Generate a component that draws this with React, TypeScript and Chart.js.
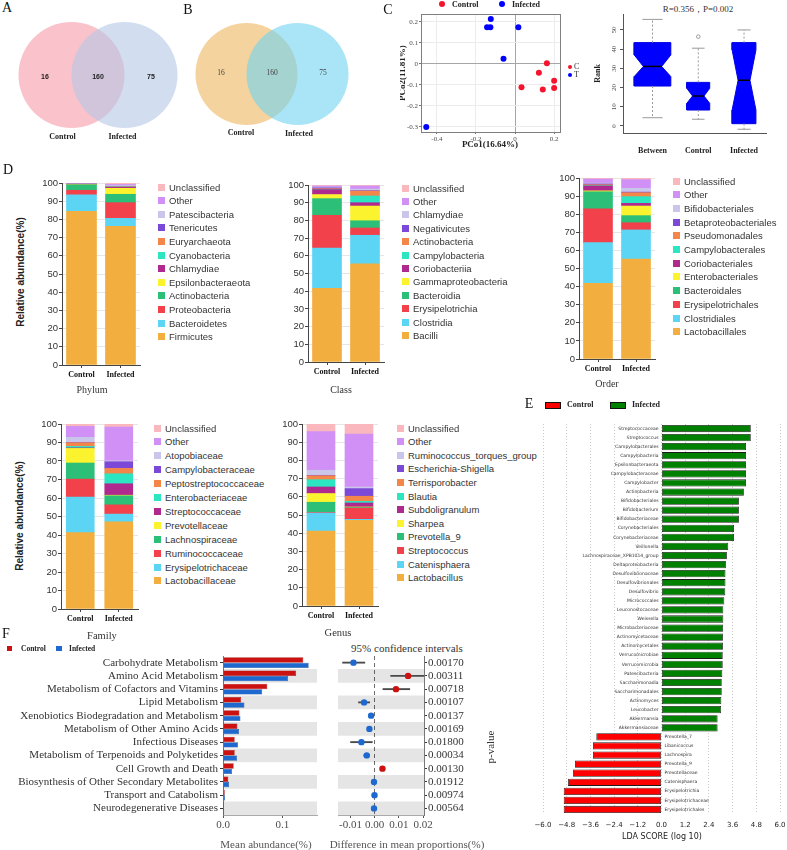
import React, { useEffect, useRef } from 'react';
import { Chart, registerables } from 'chart.js';

Chart.register(...registerables);

/* ---------------- shared ---------------- */
const GROUPS = ['Control', 'Infected'];

/* ---------------- A / B: shared features ---------------- */
const VENN_A_COUNTS = [16, 160, 75]; // control only, shared, infected only
const VENN_B_COUNTS = [16, 160, 75];

/* ---------------- C: PCoA ---------------- */
const PCOA_CONTROL_X = [0.163, 0.122, 0.2, 0.2, 0.033, 0.142];
const PCOA_CONTROL_Y = [0.003, -0.042, -0.08, -0.114, -0.111, -0.122];
const PCOA_INFECTED_X = [-0.124, -0.143, -0.126, 0.017, -0.059, -0.454];
const PCOA_INFECTED_Y = [0.214, 0.175, 0.175, 0.175, 0.025, -0.3];
const PCOA_X_TICKS = [-0.4, -0.2, 0, 0.2];
const PCOA_Y_TICKS = [-0.3, -0.2, -0.1, 0, 0.1, 0.2];

/* ---------------- C: ANOSIM rank boxes ---------------- */
const BOX_GROUPS = ['Between', 'Control', 'Infected'];
const BOX_LOW = [4.3, 3.5, -1.7];
const BOX_Q1 = [20.8, 8.3, 1.2];
const BOX_MEDIAN = [31.0, 15.6, 23.8];
const BOX_Q3 = [43.4, 22.7, 43.4];
const BOX_HIGH = [55.5, 40.5, 50.0];
const BOX_NOTCH_LOW = [25.7, 11.8, 8.3];
const BOX_NOTCH_HIGH = [37.0, 19.6, 39.6];
const BOX_OUTLIERS = [[], [46.5], []];
const RANK_TICKS = [0, 10, 20, 30, 40, 50];

/* ---------------- D: relative abundance ---------------- */
const PCT_TICKS = [0, 10, 20, 30, 40, 50, 60, 70, 80, 90, 100];
const TAXON_COLORS = ['#F2AE3E', '#5CD4F4', '#F3414B', '#2CBF78', '#FAF32E', '#B0298F', '#2BE6C0', '#F5864A', '#7C48D8', '#CAC5EA', '#D090F5', '#FAB8BE'];

const PHYLUM_TAXA = ['Firmicutes', 'Bacteroidetes', 'Proteobacteria', 'Actinobacteria', 'Epsilonbacteraeota', 'Chlamydiae', 'Cyanobacteria', 'Euryarchaeota', 'Tenericutes', 'Patescibacteria', 'Other', 'Unclassified'];
const PHYLUM_CONTROL = [84.5, 9.0, 2.5, 3.0, 0.1, 0.1, 0.1, 0.1, 0.1, 0.1, 0.2, 0.2];
const PHYLUM_INFECTED = [76.2, 4.4, 8.6, 4.6, 3.3, 0.6, 0.2, 0.2, 0.1, 0.4, 0.6, 0.8];

const CLASS_TAXA = ['Bacilli', 'Clostridia', 'Erysipelotrichia', 'Bacteroidia', 'Gammaproteobacteria', 'Coriobacteriia', 'Campylobacteria', 'Actinobacteria', 'Negativicutes', 'Chlamydiae', 'Other', 'Unclassified'];
const CLASS_CONTROL = [41.6, 22.8, 18.5, 9.4, 2.3, 2.8, 0.1, 0.4, 0.5, 0.4, 0.6, 0.6];
const CLASS_INFECTED = [55.4, 16.2, 4.1, 4.1, 8.3, 1.9, 3.8, 2.8, 0.2, 0.9, 1.7, 0.6];

const ORDER_TAXA = ['Lactobacillales', 'Clostridiales', 'Erysipelotrichales', 'Bacteroidales', 'Enterobacteriales', 'Coriobacteriales', 'Campylobacterales', 'Pseudomonadales', 'Betaproteobacteriales', 'Bifidobacteriales', 'Other', 'Unclassified'];
const ORDER_CONTROL = [41.8, 22.5, 18.7, 9.4, 0.5, 2.7, 0.2, 0.5, 0.4, 0.5, 2.2, 0.6];
const ORDER_INFECTED = [55.2, 16.1, 4.0, 3.9, 5.3, 1.5, 3.7, 2.2, 0.3, 2.1, 4.8, 0.9];

const FAMILY_TAXA = ['Lactobacillaceae', 'Erysipelotrichaceae', 'Ruminococcaceae', 'Lachnospiraceae', 'Prevotellaceae', 'Streptococcaceae', 'Enterobacteriaceae', 'Peptostreptococcaceae', 'Campylobacteraceae', 'Atopobiaceae', 'Other', 'Unclassified'];
const FAMILY_CONTROL = [41.3, 19.2, 9.7, 8.7, 7.9, 0.3, 0.8, 2.0, 0.1, 2.8, 5.9, 1.3];
const FAMILY_INFECTED = [47.1, 4.2, 5.0, 4.9, 0.3, 6.2, 5.4, 2.9, 3.6, 0.5, 18.3, 1.6];

const GENUS_TAXA = ['Lactobacillus', 'Catenisphaera', 'Streptococcus', 'Prevotella_9', 'Sharpea', 'Subdoligranulum', 'Blautia', 'Terrisporobacter', 'Escherichia-Shigella', 'Ruminococcus_torques_group', 'Other', 'Unclassified'];
const GENUS_CONTROL = [41.2, 9.9, 0.3, 5.6, 4.8, 3.6, 4.0, 2.2, 0.2, 2.8, 21.2, 4.2];
const GENUS_INFECTED = [47.1, 0.5, 6.2, 0.3, 0.3, 2.2, 0.9, 2.8, 4.2, 0.9, 29.1, 5.5];

/* ---------------- E: LEfSe ---------------- */
const LDA_TAXA = ['Streptococcaceae', 'Streptococcus', 'Campylobacterales', 'Campylobacteria', 'Epsilonbacteraeota', 'Campylobacteraceae', 'Campylobacter', 'Actinobacteria', 'Bifidobacteriales', 'Bifidobacterium', 'Bifidobacteriaceae', 'Corynebacteriales', 'Corynebacteriaceae', 'Veillonella', 'Lachnospiraceae_XPB1014_group', 'Deltaproteobacteria', 'Desulfovibrionaceae', 'Desulfovibrionales', 'Desulfovibrio', 'Micrococcales', 'Leuconostocaceae', 'Weissella', 'Microbacteriaceae', 'Actinomycetaceae', 'Actinomycetales', 'Verrucomicrobiae', 'Verrucomicrobia', 'Patescibacteria', 'Saccharimonadia', 'Saccharimonadales', 'Actinomyces', 'Leucobacter', 'Akkermansia', 'Akkermansiaceae', 'Prevotella_7', 'Libanicoccus', 'Lachnospira', 'Prevotella_9', 'Prevotellaceae', 'Catenisphaera', 'Erysipelotrichia', 'Erysipelotrichaceae', 'Erysipelotrichales'];
const LDA_SCORES = [4.52, 4.52, 4.28, 4.28, 4.28, 4.28, 4.28, 4.17, 3.92, 3.92, 3.92, 3.67, 3.67, 3.38, 3.31, 3.26, 3.24, 3.24, 3.23, 3.18, 3.13, 3.13, 3.12, 3.11, 3.11, 3.10, 3.10, 3.08, 3.05, 3.05, 3.03, 3.02, 2.84, 2.84, -3.30, -3.47, -3.47, -4.38, -4.48, -4.73, -4.95, -4.95, -4.95];
const LDA_TICKS = [-6, -4.8, -3.6, -2.4, -1.2, 0, 1.2, 2.4, 3.6, 4.8, 6];

/* ---------------- F: predicted functions ---------------- */
const PATHWAYS = ['Carbohydrate Metabolism', 'Amino Acid Metabolism', 'Metabolism of Cofactors and Vitamins', 'Lipid Metabolism', 'Xenobiotics Biodegradation and Metabolism', 'Metabolism of Other Amino Acids', 'Infectious Diseases', 'Metabolism of Terpenoids and Polyketides', 'Cell Growth and Death', 'Biosynthesis of Other Secondary Metabolites', 'Transport and Catabolism', 'Neurodegenerative Diseases'];
const PATHWAY_CONTROL = [0.135, 0.123, 0.0745, 0.0305, 0.0276, 0.0242, 0.0197, 0.0197, 0.018, 0.009, 0.003, 0.0015];
const PATHWAY_INFECTED = [0.144, 0.1095, 0.066, 0.036, 0.0293, 0.027, 0.0254, 0.0237, 0.0153, 0.0102, 0.0034, 0.002];
const DIFF_MEAN = [-0.0088, 0.0138, 0.0088, -0.0044, -0.0015, -0.0022, -0.0055, -0.0033, 0.0032, -0.0003, -0.0001, -0.0003];
const DIFF_LOW = [-0.0133, 0.0066, 0.0034, -0.0067, -0.0023, -0.003, -0.01, -0.0045, 0.0024, -0.0008, -0.0005, -0.0007];
const DIFF_HIGH = [-0.0041, 0.0216, 0.0145, -0.0021, -0.0007, -0.0014, -0.001, -0.0021, 0.004, 0.0002, 0.0003, 0.0001];
const P_VALUES = ['0.00170', '0.00311', '0.00718', '0.00107', '0.00137', '0.00169', '0.01800', '0.00034', '0.00130', '0.01912', '0.00974', '0.00564'];
const ABUND_TICKS = [0, 0.1];
const DIFF_TICKS = [-0.01, 0, 0.01, 0.02];

/* ---------------- styling ---------------- */
const SERIF = 'Liberation Serif';
const SANS = 'Liberation Sans';
const DEJAVU = 'DejaVu Sans';
const CSS_SERIF = '"Liberation Serif", "Times New Roman", serif';
const CSS_SANS = '"Liberation Sans", Arial, sans-serif';
const RED = '#cc1111';
const BLUE = '#1e69cf';
const BAND = 'rgba(0,0,0,0.102)';

const base = () => ({
  responsive: false,
  animation: false,
  events: [],
  plugins: { legend: { display: false }, tooltip: { enabled: false }, title: { display: false } },
});

// fixed axis sizes so every plot area lands where it should
const fitW = (w: number) => (s: any) => { s.width = w; s.paddingTop = 0; s.paddingBottom = 0; s.paddingLeft = 0; s.paddingRight = 0; };
const fitH = (h: number) => (s: any) => { s.height = h; s.paddingTop = 0; s.paddingBottom = 0; s.paddingLeft = 0; s.paddingRight = 0; };
const setTicks = (vals: number[]) => (s: any) => { s.ticks = vals.map((v) => ({ value: v })); };

type Gut = { l: number; t: number; r: number; b: number };
function frame(x1: number, y1: number, x2: number, y2: number, g: Gut) {
  return { left: x1 - g.l, top: y1 - g.t, width: x2 - x1 + g.l + g.r, height: y2 - y1 + g.t + g.b, g };
}

function ChartCanvas({ rect, build }: { rect: any; build: () => any }) {
  const ref = useRef<HTMLCanvasElement>(null);
  useEffect(() => {
    const chart = new Chart(ref.current as HTMLCanvasElement, build());
    return () => chart.destroy();
  }, []);
  return (
    <canvas
      ref={ref}
      width={rect.width}
      height={rect.height}
      style={{ position: 'absolute', left: rect.left, top: rect.top, width: rect.width, height: rect.height }}
    />
  );
}

function Label({ x, y, text, font, color = '#222', align = 'center', rotate = 0 }: any) {
  const tx = align === 'center' ? '-50%' : align === 'right' ? '-100%' : '0';
  return (
    <div style={{ position: 'absolute', left: x, top: y, transform: `translate(${tx}, -50%) rotate(${rotate}deg)`, font, color, whiteSpace: 'nowrap', lineHeight: 1 }}>
      {text}
    </div>
  );
}

/* ---------------- A / B ---------------- */
// bubble charts reserve their largest radius as padding, so the canvas is grown by r on each side
const VENN_HALF_W = 90;
const VENN_HALF_H = 60;
function vennRect(v: { cx: number; cy: number; r: number }) {
  return { left: v.cx - VENN_HALF_W - v.r, top: v.cy - VENN_HALF_H - v.r, width: 2 * (VENN_HALF_W + v.r), height: 2 * (VENN_HALF_H + v.r) };
}
function vennConfig(radius: number, colors: string[]) {
  return {
    type: 'bubble',
    data: {
      datasets: [{
        data: [{ x: -radius / 2, y: 0, r: radius }, { x: radius / 2, y: 0, r: radius }],
        backgroundColor: colors,
        borderWidth: 0,
        clip: false,
      }],
    },
    options: {
      ...base(),
      layout: { padding: 0 },
      scales: {
        x: { type: 'linear', display: false, min: -VENN_HALF_W, max: VENN_HALF_W },
        y: { type: 'linear', display: false, min: -VENN_HALF_H, max: VENN_HALF_H },
      },
    },
  };
}

/* ---------------- C ---------------- */
const fmt1 = (v: any) => String(+Number(v).toFixed(1));

function pcoaConfig(g: Gut) {
  const zeroGrid = (c: any) => (c.tick && Math.abs(c.tick.value) < 1e-9 ? '#a6a6a6' : '#ececec');
  const tickFont = { family: SERIF, size: 7 };
  return {
    type: 'scatter',
    data: {
      datasets: [
        { data: PCOA_CONTROL_X.map((x, i) => ({ x, y: PCOA_CONTROL_Y[i] })), backgroundColor: '#f5142d', borderWidth: 0, pointRadius: 3 },
        { data: PCOA_INFECTED_X.map((x, i) => ({ x, y: PCOA_INFECTED_Y[i] })), backgroundColor: '#0000ff', borderWidth: 0, pointRadius: 3 },
      ],
    },
    options: {
      ...base(),
      layout: { padding: { top: g.t, right: g.r } },
      scales: {
        x: {
          type: 'linear', min: -0.481, max: 0.23, afterFit: fitH(g.b), afterBuildTicks: setTicks(PCOA_X_TICKS),
          ticks: { callback: fmt1, font: tickFont, color: '#4d4d4d', padding: 1, maxRotation: 0 },
          grid: { color: zeroGrid, tickLength: 2, tickColor: '#777' }, border: { color: '#7f7f7f' },
        },
        y: {
          type: 'linear', min: -0.324, max: 0.238, afterFit: fitW(g.l), afterBuildTicks: setTicks(PCOA_Y_TICKS),
          ticks: { callback: fmt1, font: tickFont, color: '#4d4d4d', padding: 1 },
          grid: { color: zeroGrid, tickLength: 2, tickColor: '#777' }, border: { color: '#7f7f7f' },
        },
        xTop: { type: 'linear', position: 'top', afterFit: fitH(0), ticks: { display: false }, grid: { display: false }, border: { color: '#7f7f7f' } },
        yRight: { type: 'linear', position: 'right', afterFit: fitW(0), ticks: { display: false }, grid: { display: false }, border: { color: '#7f7f7f' } },
      },
    },
  };
}

// rank values are printed vertically beside the axis
const rotatedRankTicks = {
  id: 'rotatedRankTicks',
  afterDraw(chart: any) {
    const y = chart.scales.y;
    const ctx = chart.ctx;
    ctx.save();
    ctx.font = `7px "${SERIF}"`;
    ctx.fillStyle = '#4d4d4d';
    ctx.textAlign = 'center';
    ctx.textBaseline = 'middle';
    y.ticks.forEach((t: any) => {
      ctx.save();
      ctx.translate(chart.chartArea.left - 9, y.getPixelForValue(t.value));
      ctx.rotate(-Math.PI / 2);
      ctx.fillText(String(t.value), 0, 0);
      ctx.restore();
    });
    ctx.restore();
  },
};

function boxConfig(g: Gut) {
  const halfWidth = [0.4, 0.25, 0.26];
  const seg = (x1: number, y1: number, x2: number, y2: number, color: string, dash: number[] = [], width = 1, order = 1) => ({
    type: 'line', data: [{ x: x1, y: y1 }, { x: x2, y: y2 }], borderColor: color, borderWidth: width, borderDash: dash,
    pointRadius: 0, fill: false, tension: 0, order,
  });
  const datasets: any[] = [];
  BOX_GROUPS.forEach((_, i) => {
    const x = i + 1;
    const hw = halfWidth[i];
    const nw = hw * 0.5;
    const q1 = BOX_Q1[i], q3 = BOX_Q3[i], md = BOX_MEDIAN[i], nl = BOX_NOTCH_LOW[i], nh = BOX_NOTCH_HIGH[i];
    datasets.push({
      type: 'line',
      data: [
        { x: x - hw, y: q1 }, { x: x + hw, y: q1 }, { x: x + hw, y: nl }, { x: x + nw, y: md }, { x: x + hw, y: nh },
        { x: x + hw, y: q3 }, { x: x - hw, y: q3 }, { x: x - hw, y: nh }, { x: x - nw, y: md }, { x: x - hw, y: nl }, { x: x - hw, y: q1 },
      ],
      fill: 'shape', backgroundColor: '#0000ff', borderColor: '#0000e6', borderWidth: 1, pointRadius: 0, tension: 0, order: 3,
    });
    const cw = hw * 0.55;
    datasets.push(seg(x, q3, x, BOX_HIGH[i], '#999', [2, 2]));
    datasets.push(seg(x, q1, x, BOX_LOW[i], '#999', [2, 2]));
    datasets.push(seg(x - cw, BOX_HIGH[i], x + cw, BOX_HIGH[i], '#999'));
    datasets.push(seg(x - cw, BOX_LOW[i], x + cw, BOX_LOW[i], '#999'));
    datasets.push(seg(x - nw, md, x + nw, md, '#000', [], 1.5, 0));
  });
  datasets.push({
    type: 'scatter',
    data: BOX_OUTLIERS.flatMap((vals, i) => vals.map((v) => ({ x: i + 1, y: v }))),
    pointRadius: 1.8, backgroundColor: 'rgba(0,0,0,0)', borderColor: '#888', borderWidth: 0.8, order: 0,
  });
  return {
    type: 'scatter',
    data: { datasets },
    options: {
      ...base(),
      layout: { padding: { top: g.t, right: g.r } },
      scales: {
        x: {
          type: 'linear', min: 0.355, max: 3.48, afterFit: fitH(g.b), afterBuildTicks: setTicks([1, 2, 3]),
          ticks: { callback: (v: any) => BOX_GROUPS[Math.round(v) - 1], font: { family: SERIF, size: 8, weight: 'bold' }, color: '#222', padding: 5, maxRotation: 0 },
          grid: { display: false }, border: { color: '#555' },
        },
        y: {
          type: 'linear', min: -3.65, max: 58.3, afterFit: fitW(g.l), afterBuildTicks: setTicks(RANK_TICKS),
          ticks: { display: false },
          grid: { drawOnChartArea: false, tickLength: 3, tickColor: '#555' }, border: { color: '#555' },
          title: { display: true, text: 'Rank', font: { family: SERIF, size: 8, weight: 'bold' }, color: '#222', padding: 0 },
        },
      },
    },
    plugins: [rotatedRankTicks],
  };
}

/* ---------------- D ---------------- */
function stackedConfig(taxa: string[], control: number[], infected: number[], barW: number, g: Gut) {
  return {
    type: 'bar',
    data: {
      labels: GROUPS,
      datasets: taxa.map((t, i) => ({ label: t, data: [control[i], infected[i]], backgroundColor: TAXON_COLORS[i], borderWidth: 0, barThickness: barW })),
    },
    options: {
      ...base(),
      layout: { padding: { top: g.t, right: g.r } },
      scales: {
        x: {
          stacked: true, afterFit: fitH(g.b),
          ticks: { font: { family: SERIF, size: 8, weight: 'bold' }, color: '#111', padding: 2, maxRotation: 0 },
          grid: { offset: false, drawOnChartArea: false, tickLength: 3, tickColor: '#444' }, border: { color: '#444' },
        },
        y: {
          stacked: true, min: 0, max: 100, afterFit: fitW(g.l), afterBuildTicks: setTicks(PCT_TICKS),
          ticks: { font: { family: SANS, size: 9.5 }, color: '#333', padding: 1 },
          grid: { color: '#e6e6e6', tickLength: 3, tickColor: '#444' }, border: { color: '#444' },
        },
      },
    },
  };
}

function TaxonLegend({ x, y, step, taxa }: { x: number; y: number; step: number; taxa: string[] }) {
  const rows = taxa.map((t, i) => ({ t, i })).reverse();
  return (
    <>
      {rows.map((row, k) => (
        <div key={row.t} style={{ position: 'absolute', left: x, top: y + k * step - 6, height: 12, display: 'flex', alignItems: 'center', font: `9.5px ${CSS_SANS}`, color: '#333', whiteSpace: 'nowrap' }}>
          <span style={{ display: 'inline-block', width: 7, height: 7, background: TAXON_COLORS[row.i], marginRight: 4 }} />
          {row.t}
        </div>
      ))}
    </>
  );
}

/* ---------------- E ---------------- */
const ldaLabels = {
  id: 'ldaLabels',
  afterDatasetsDraw(chart: any) {
    const { ctx } = chart;
    const x = chart.scales.x;
    const y = chart.scales.y;
    const x0 = x.getPixelForValue(0);
    ctx.save();
    ctx.font = `4.5px "${DEJAVU}"`;
    ctx.fillStyle = '#333';
    ctx.textBaseline = 'middle';
    LDA_TAXA.forEach((t, i) => {
      const v = LDA_SCORES[i];
      ctx.textAlign = v > 0 ? 'right' : 'left';
      ctx.fillText(t, v > 0 ? x0 - 3 : x0 + 3, y.getPixelForValue(i));
    });
    ctx.restore();
  },
};

function ldaConfig(g: Gut) {
  return {
    type: 'bar',
    data: {
      labels: LDA_TAXA,
      datasets: [{
        data: LDA_SCORES,
        backgroundColor: LDA_SCORES.map((v) => (v > 0 ? '#008000' : '#ff0000')),
        borderColor: '#1a1a1a', borderWidth: 0.8, borderSkipped: false,
        barPercentage: 0.8, categoryPercentage: 1,
      }],
    },
    options: {
      ...base(),
      indexAxis: 'y',
      layout: { padding: { top: g.t, right: g.r } },
      scales: {
        x: {
          type: 'linear', min: -6, max: 6, afterFit: fitH(g.b), afterBuildTicks: setTicks(LDA_TICKS),
          ticks: { callback: (v: any) => (v < -1e-9 ? '\u2212' : '') + Math.abs(v).toFixed(1), font: { family: DEJAVU, size: 7 }, color: '#222', padding: 7, maxRotation: 0 },
          grid: { color: '#bdbdbd', lineWidth: 0.8, drawTicks: false }, border: { display: false, dash: [1, 2] },
        },
        y: { afterFit: fitW(g.l), ticks: { display: false }, grid: { display: false }, border: { display: false } },
      },
    },
    plugins: [ldaLabels],
  };
}

/* ---------------- F ---------------- */
// shaded background on every second row, spanning the whole value axis
const bandRows = (lo: number, hi: number) => PATHWAYS.map((_, i) => (i % 2 === 1 ? [lo, hi] : null));
const bandDataset = (lo: number, hi: number) => ({
  type: 'bar', data: bandRows(lo, hi), backgroundColor: BAND, borderWidth: 0,
  grouped: false, barPercentage: 1, categoryPercentage: 1, order: 10,
});

const ABUND_MAX = 0.158;
const DIFF_MIN = -0.0152;
const DIFF_MAX = 0.0204;

function abundanceConfig(g: Gut) {
  return {
    type: 'bar',
    data: {
      labels: PATHWAYS,
      datasets: [
        { label: 'Control', data: PATHWAY_CONTROL, backgroundColor: RED, borderColor: '#8c0a0a', borderWidth: 0.5, categoryPercentage: 0.8, barPercentage: 1, order: 1 },
        { label: 'Infected', data: PATHWAY_INFECTED, backgroundColor: BLUE, borderColor: '#0f3f86', borderWidth: 0.5, categoryPercentage: 0.8, barPercentage: 1, order: 1 },
        bandDataset(0, ABUND_MAX),
      ],
    },
    options: {
      ...base(),
      indexAxis: 'y',
      layout: { padding: { top: g.t, right: g.r } },
      scales: {
        x: {
          type: 'linear', min: 0, max: ABUND_MAX, afterFit: fitH(g.b), afterBuildTicks: setTicks(ABUND_TICKS),
          ticks: { callback: (v: any) => Number(v).toFixed(1), font: { family: SERIF, size: 11 }, color: '#4d4d4d', padding: 1, maxRotation: 0 },
          grid: { drawOnChartArea: false, tickLength: 3, tickColor: '#555' }, border: { color: '#aaa' },
        },
        y: {
          afterFit: fitW(g.l),
          ticks: { font: { family: SERIF, size: 11 }, color: '#333', padding: 2, autoSkip: false },
          grid: { offset: false, drawOnChartArea: false, tickLength: 3, tickColor: '#333' },
          border: { color: '#777' },
        },
      },
    },
  };
}

function diffConfig(g: Gut) {
  const dotColors = DIFF_MEAN.map((v) => (v > 0 ? RED : BLUE));
  return {
    type: 'bar',
    data: {
      labels: P_VALUES,
      datasets: [
        {
          type: 'line', indexAxis: 'y', data: DIFF_MEAN, showLine: false,
          pointRadius: 3.2, pointBackgroundColor: dotColors, pointBorderColor: dotColors, pointBorderWidth: 0, order: 0,
        },
        {
          type: 'bar', data: DIFF_LOW.map((lo, i) => [lo, DIFF_HIGH[i]]), backgroundColor: '#4a4a4a',
          barThickness: 1.2, grouped: false, order: 1,
        },
        bandDataset(DIFF_MIN, DIFF_MAX),
      ],
    },
    options: {
      ...base(),
      indexAxis: 'y',
      layout: { padding: { top: g.t, left: g.l } },
      scales: {
        x: {
          type: 'linear', min: DIFF_MIN, max: DIFF_MAX, afterFit: fitH(g.b), afterBuildTicks: setTicks(DIFF_TICKS),
          ticks: { callback: (v: any) => Number(v).toFixed(2), font: { family: SERIF, size: 11 }, color: '#4d4d4d', padding: 1, maxRotation: 0 },
          grid: { color: (c: any) => (c.tick && Math.abs(c.tick.value) < 1e-9 ? '#6e6e6e' : 'rgba(0,0,0,0)'), lineWidth: 1, tickLength: 3, tickColor: '#555' },
          border: { color: '#aaa', dash: [4, 3] },
        },
        y: {
          position: 'right', afterFit: fitW(g.r),
          ticks: { font: { family: SERIF, size: 11 }, color: '#333', padding: 1, autoSkip: false },
          grid: { offset: false, drawOnChartArea: false, tickLength: 3, tickColor: '#333' },
          border: { color: '#777' },
        },
      },
    },
  };
}

/* ---------------- layout ---------------- */
const VENN_A = { cx: 98, cy: 75, r: 53 };
const VENN_B = { cx: 272, cy: 74, r: 51 };

const R_PCOA = frame(421, 14, 561, 132, { l: 21, t: 4, r: 3, b: 20 });
const R_BOX = frame(623, 14, 766, 133, { l: 30, t: 14, r: 10, b: 20 });
const R_PHYLUM = frame(62, 183, 140, 365, { l: 40, t: 7, r: 6, b: 20 });
const R_CLASS = frame(308, 185, 384, 362, { l: 40, t: 7, r: 6, b: 20 });
const R_ORDER = frame(579, 178, 655, 359, { l: 40, t: 7, r: 6, b: 20 });
const R_FAMILY = frame(61, 424, 138, 609, { l: 40, t: 7, r: 6, b: 18 });
const R_GENUS = frame(302, 424, 378, 606, { l: 40, t: 7, r: 6, b: 18 });
const R_LDA = frame(543, 424, 780, 814, { l: 20, t: 8, r: 7, b: 31 });
const R_ABUND = frame(223, 656, 317, 815, { l: 211, t: 6, r: 3, b: 17 });
const R_DIFF = frame(338, 656, 424, 815, { l: 8, t: 6, r: 46, b: 17 });

export default function App() {
  const letter = `14px ${CSS_SERIF}`;
  const boldSerif8 = `bold 8px ${CSS_SERIF}`;
  return (
    <div style={{ position: 'absolute', left: 0, top: 0, width: 787, height: 850, overflow: 'hidden', background: '#fff' }}>
      {/* A */}
      <Label x={7} y={8} text="A" font={letter} color="#111" />
      <ChartCanvas rect={vennRect(VENN_A)} build={() => vennConfig(VENN_A.r, ['#fac3cb', 'rgba(180,198,230,0.6)'])} />
      <Label x={VENN_A.cx - VENN_A.r} y={VENN_A.cy + 1} text={String(VENN_A_COUNTS[0])} font={`bold 7px ${CSS_SANS}`} />
      <Label x={VENN_A.cx} y={VENN_A.cy + 1} text={String(VENN_A_COUNTS[1])} font={`bold 7px ${CSS_SANS}`} />
      <Label x={VENN_A.cx + VENN_A.r} y={VENN_A.cy + 1} text={String(VENN_A_COUNTS[2])} font={`bold 7px ${CSS_SANS}`} />
      <Label x={62.5} y={137} text="Control" font={boldSerif8} />
      <Label x={122.5} y={137} text="Infected" font={boldSerif8} />

      {/* B */}
      <Label x={188} y={10} text="B" font={letter} color="#111" />
      <ChartCanvas rect={vennRect(VENN_B)} build={() => vennConfig(VENN_B.r, ['#f5d39e', 'rgba(112,212,242,0.6)'])} />
      <Label x={VENN_B.cx - VENN_B.r} y={VENN_B.cy - 1} text={String(VENN_B_COUNTS[0])} font={`7.5px ${CSS_SERIF}`} color="#444" />
      <Label x={VENN_B.cx} y={VENN_B.cy - 1} text={String(VENN_B_COUNTS[1])} font={`7.5px ${CSS_SERIF}`} color="#444" />
      <Label x={VENN_B.cx + VENN_B.r} y={VENN_B.cy - 1} text={String(VENN_B_COUNTS[2])} font={`7.5px ${CSS_SERIF}`} color="#444" />
      <Label x={241} y={133} text="Control" font={boldSerif8} />
      <Label x={299} y={134} text="Infected" font={boldSerif8} />

      {/* C */}
      <Label x={388} y={10} text="C" font={letter} color="#111" />
      <div style={{ position: 'absolute', left: 442 - 3, top: 4 - 3, width: 6, height: 6, borderRadius: 3, background: '#f5142d' }} />
      <Label x={452} y={5} text="Control" font={boldSerif8} align="left" />
      <div style={{ position: 'absolute', left: 502 - 3, top: 4 - 3, width: 6, height: 6, borderRadius: 3, background: '#0000ff' }} />
      <Label x={512} y={5} text="Infected" font={boldSerif8} align="left" />
      <ChartCanvas rect={R_PCOA} build={() => pcoaConfig(R_PCOA.g)} />
      <div style={{ position: 'absolute', left: 400, top: 0, width: 8, height: 150, overflow: 'hidden' }}>
        <Label x={2} y={73} text="PCo2(11.81%)" font={`bold 9px ${CSS_SERIF}`} rotate={-90} />
      </div>
      <Label x={490} y={144} text="PCo1(16.64%)" font={`bold 9px ${CSS_SERIF}`} />
      <div style={{ position: 'absolute', left: 570 - 2, top: 67 - 2, width: 4, height: 4, borderRadius: 2, background: '#f5142d' }} />
      <Label x={574} y={67} text="C" font={`8px ${CSS_SERIF}`} align="left" color="#333" />
      <div style={{ position: 'absolute', left: 570 - 2, top: 75 - 2, width: 4, height: 4, borderRadius: 2, background: '#0000ff' }} />
      <Label x={574} y={75} text="T" font={`8px ${CSS_SERIF}`} align="left" color="#333" />
      <Label x={698} y={9} text="R=0.356，P=0.002" font={`9px ${CSS_SERIF}`} color="#333" />
      <ChartCanvas rect={R_BOX} build={() => boxConfig(R_BOX.g)} />

      {/* D */}
      <Label x={8} y={170} text="D" font={letter} color="#111" />
      <Label x={21} y={272} text="Relative abundance(%)" font={`bold 10px ${CSS_SANS}`} rotate={-90} />
      <Label x={20} y={516} text="Relative abundance(%)" font={`bold 10px ${CSS_SANS}`} rotate={-90} />

      <ChartCanvas rect={R_PHYLUM} build={() => stackedConfig(PHYLUM_TAXA, PHYLUM_CONTROL, PHYLUM_INFECTED, 30, R_PHYLUM.g)} />
      <TaxonLegend x={158} y={187} step={13.6} taxa={PHYLUM_TAXA} />
      <Label x={92} y={390} text="Phylum" font={`10px ${CSS_SERIF}`} color="#333" />

      <ChartCanvas rect={R_CLASS} build={() => stackedConfig(CLASS_TAXA, CLASS_CONTROL, CLASS_INFECTED, 29, R_CLASS.g)} />
      <TaxonLegend x={402} y={188} step={13.4} taxa={CLASS_TAXA} />
      <Label x={341} y={390} text="Class" font={`10px ${CSS_SERIF}`} color="#333" />

      <ChartCanvas rect={R_ORDER} build={() => stackedConfig(ORDER_TAXA, ORDER_CONTROL, ORDER_INFECTED, 29, R_ORDER.g)} />
      <TaxonLegend x={673} y={181} step={13.7} taxa={ORDER_TAXA} />
      <Label x={607} y={384} text="Order" font={`10px ${CSS_SERIF}`} color="#333" />

      <ChartCanvas rect={R_FAMILY} build={() => stackedConfig(FAMILY_TAXA, FAMILY_CONTROL, FAMILY_INFECTED, 28, R_FAMILY.g)} />
      <TaxonLegend x={154} y={428} step={13.9} taxa={FAMILY_TAXA} />
      <Label x={102} y={636} text="Family" font={`10.5px ${CSS_SERIF}`} color="#333" />

      <ChartCanvas rect={R_GENUS} build={() => stackedConfig(GENUS_TAXA, GENUS_CONTROL, GENUS_INFECTED, 28, R_GENUS.g)} />
      <TaxonLegend x={397} y={428} step={13.6} taxa={GENUS_TAXA} />
      <Label x={338} y={633} text="Genus" font={`10.5px ${CSS_SERIF}`} color="#333" />

      {/* E */}
      <Label x={529} y={404} text="E" font={letter} color="#111" />
      <div style={{ position: 'absolute', left: 545, top: 402, width: 14, height: 5, background: '#ff0000', border: '0.8px solid #111' }} />
      <Label x={567} y={405} text="Control" font={boldSerif8} align="left" />
      <div style={{ position: 'absolute', left: 610, top: 402, width: 14, height: 5, background: '#008000', border: '0.8px solid #111' }} />
      <Label x={632} y={405} text="Infected" font={boldSerif8} align="left" />
      <ChartCanvas rect={R_LDA} build={() => ldaConfig(R_LDA.g)} />
      <Label x={662} y={837} text="LDA SCORE (log 10)" font={`8px "DejaVu Sans", sans-serif`} color="#222" />

      {/* F */}
      <Label x={6} y={634} text="F" font={letter} color="#111" />
      <div style={{ position: 'absolute', left: 7, top: 646, width: 5, height: 5, background: RED }} />
      <Label x={21} y={649} text="Control" font={`bold 7.5px ${CSS_SERIF}`} align="left" />
      <div style={{ position: 'absolute', left: 56, top: 646, width: 6, height: 5, background: BLUE }} />
      <Label x={69} y={649} text="Infected" font={`bold 7.5px ${CSS_SERIF}`} align="left" />
      <ChartCanvas rect={R_ABUND} build={() => abundanceConfig(R_ABUND.g)} />
      <Label x={266} y={844} text="Mean abundance(%)" font={`11px ${CSS_SERIF}`} color="#555" />

      <Label x={407} y={648} text="95% confidence intervals" font={`11px ${CSS_SERIF}`} color="#333" />
      <ChartCanvas rect={R_DIFF} build={() => diffConfig(R_DIFF.g)} />
      <Label x={490} y={747} text="p-value" font={`11px ${CSS_SERIF}`} color="#333" rotate={-90} />
      <Label x={407} y={844} text="Difference in mean proportions(%)" font={`11px ${CSS_SERIF}`} color="#555" />
    </div>
  );
}
